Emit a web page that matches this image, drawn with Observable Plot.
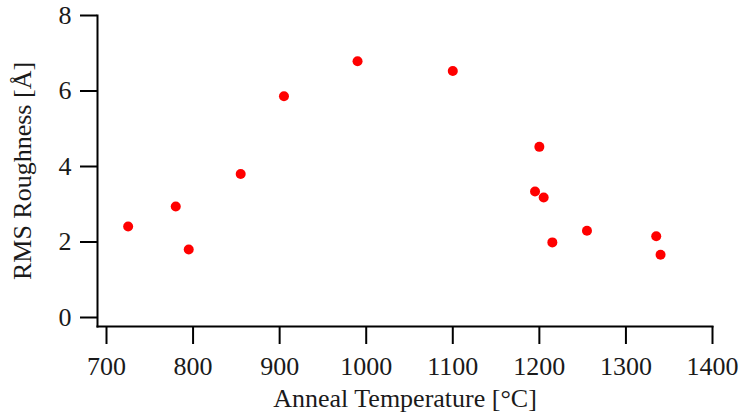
<!DOCTYPE html>
<html>
<head>
<meta charset="utf-8">
<script src="https://cdn.jsdelivr.net/npm/d3@7"></script>
<script src="https://cdn.jsdelivr.net/npm/@observablehq/plot@0.6"></script>
<style>
  html, body { margin: 0; padding: 0; background: #fff; }
  #chart { width: 739px; height: 413px; }
  #chart svg text { font-family: 'Liberation Serif', 'Times New Roman', serif; }
</style>
</head>
<body>
<div id="chart"></div>
<script>
const temperature = [725, 780, 795, 855, 905, 990, 1100, 1200, 1195, 1205, 1215, 1255, 1335, 1340];
const roughness = [2.41, 2.94, 1.80, 3.80, 5.86, 6.79, 6.53, 4.52, 3.34, 3.18, 1.99, 2.30, 2.15, 1.66];
const xTicks = [700, 800, 900, 1000, 1100, 1200, 1300, 1400];
const yTicks = [0, 2, 4, 6, 8];
const xLabel = "Anneal Temperature [°C]";
const yLabel = "RMS Roughness [Å]";

const data = temperature.map((t, i) => ({t, r: roughness[i]}));
const font = "'Liberation Serif', 'Times New Roman', serif";

const chart = Plot.plot({
  width: 739,
  height: 413,
  marginLeft: 97,
  marginRight: 27,
  marginTop: 15,
  marginBottom: 87,
  style: {fontFamily: font, fontSize: "26px", color: "#1a1a1a", background: "#fff"},
  x: {domain: [700, 1400], insetLeft: 9},
  y: {domain: [0, 8], insetBottom: 9},
  marks: [
    Plot.frame({anchor: "left", stroke: "#000", strokeWidth: 2}),
    Plot.frame({anchor: "bottom", stroke: "#000", strokeWidth: 2}),
    Plot.axisX({ticks: xTicks, tickFormat: d => String(d), tickSize: 18, tickPadding: 12, strokeWidth: 2, stroke: "#000",
      fontFamily: font, fontSize: 26, fill: "#1a1a1a",
      label: xLabel, labelAnchor: "center", labelArrow: "none", labelOffset: 80}),
    Plot.axisY({ticks: yTicks, tickFormat: d => String(d), tickSize: 17, tickPadding: 9, strokeWidth: 2, stroke: "#000",
      fontFamily: font, fontSize: 26, fill: "#1a1a1a",
      label: yLabel, labelAnchor: "center", labelArrow: "none", labelOffset: 85}),
    Plot.dot(data, {x: "t", y: "r", r: 5, fill: "#ff0000", stroke: "none"})
  ]
});
document.getElementById("chart").appendChild(chart);
</script>
</body>
</html>
